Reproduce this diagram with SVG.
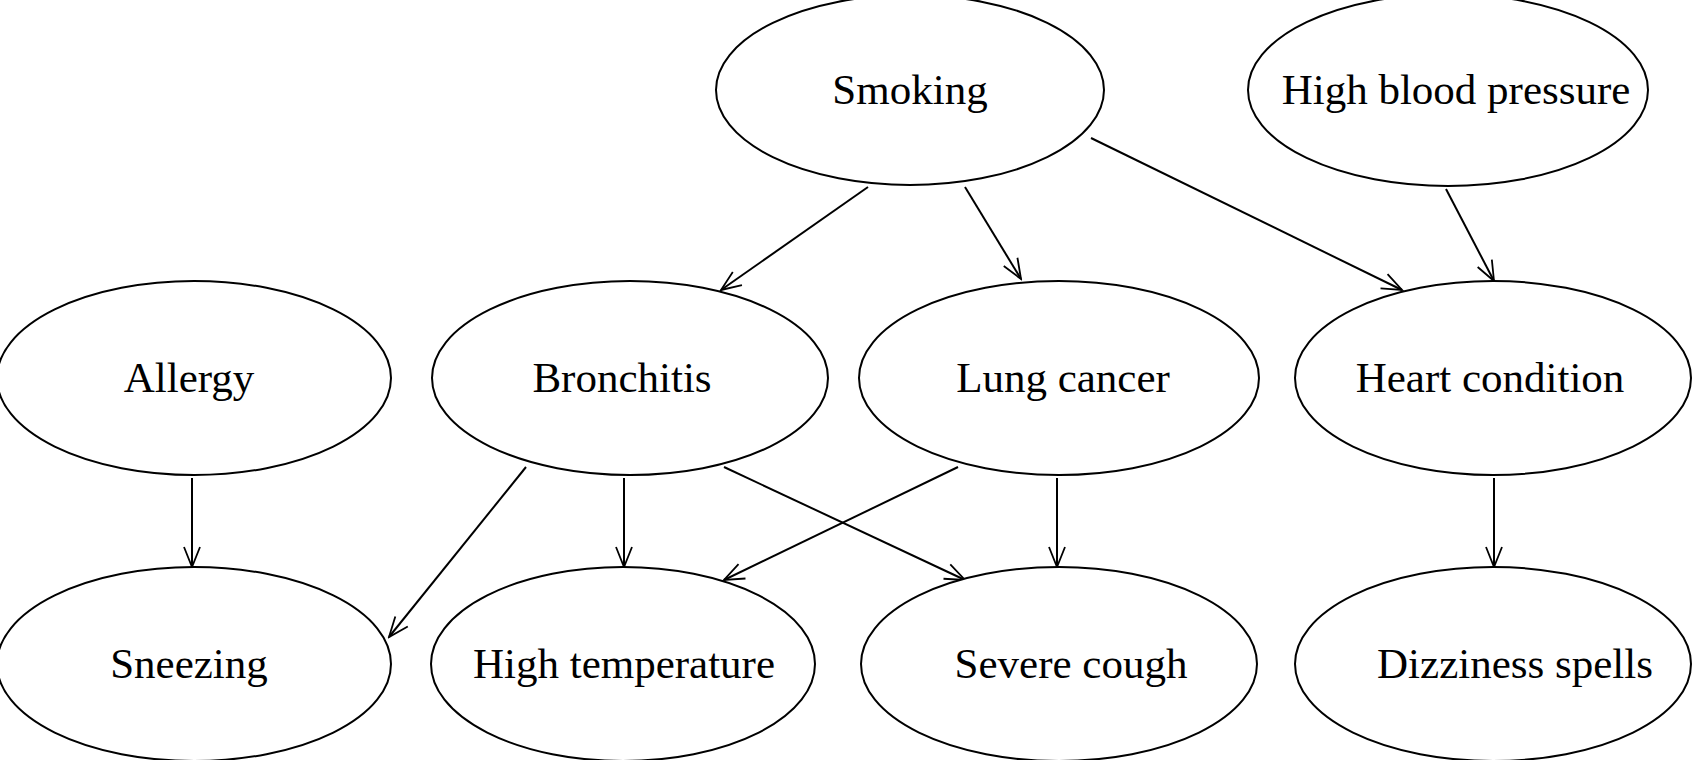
<svg xmlns="http://www.w3.org/2000/svg" width="1694" height="760" viewBox="0 0 1694 760">
<defs>
<marker id="a" markerWidth="24" markerHeight="20" refX="22" refY="10" orient="auto" markerUnits="userSpaceOnUse"><path d="M2,2 L22,10 L2,18" fill="none" stroke="#000" stroke-width="1.8"/></marker>
</defs>
<style>
ellipse{fill:#fff;stroke:#000;stroke-width:2}
text{font-family:"Liberation Serif",serif;font-size:43px;text-anchor:middle;fill:#000}
#edges line{stroke:#000;stroke-width:2;marker-end:url(#a)}
</style>
<rect width="1694" height="760" fill="#fff"/>
<g id="edges">
<line x1="868" y1="187" x2="721" y2="290"/>
<line x1="965" y1="187" x2="1021" y2="279"/>
<line x1="1091" y1="138" x2="1402" y2="290"/>
<line x1="1446" y1="189" x2="1494" y2="281"/>
<line x1="192" y1="478" x2="192" y2="567"/>
<line x1="526" y1="467" x2="389" y2="637"/>
<line x1="624" y1="478" x2="624" y2="567"/>
<line x1="724" y1="467" x2="965" y2="580"/>
<line x1="958" y1="467" x2="724" y2="580"/>
<line x1="1057" y1="478" x2="1057" y2="567"/>
<line x1="1494" y1="478" x2="1494" y2="567"/>
</g>
<g id="smoking"><ellipse cx="910" cy="90" rx="194" ry="95"/><text x="910" y="104">Smoking</text></g>
<g id="hbp"><ellipse cx="1448" cy="90" rx="200" ry="96"/><text x="1456" y="104">High blood pressure</text></g>
<g id="allergy"><ellipse cx="194" cy="378" rx="197" ry="97"/><text x="189" y="392">Allergy</text></g>
<g id="bronchitis"><ellipse cx="630" cy="378" rx="198" ry="97"/><text x="622" y="392">Bronchitis</text></g>
<g id="lung"><ellipse cx="1059" cy="378" rx="200" ry="97"/><text x="1063" y="392">Lung cancer</text></g>
<g id="heart"><ellipse cx="1493" cy="378" rx="198" ry="97"/><text x="1490" y="392">Heart condition</text></g>
<g id="sneezing"><ellipse cx="194" cy="664" rx="197" ry="97"/><text x="189" y="678">Sneezing</text></g>
<g id="hightemp"><ellipse cx="623" cy="664" rx="192" ry="97"/><text x="624" y="678">High temperature</text></g>
<g id="cough"><ellipse cx="1059" cy="664" rx="198" ry="97"/><text x="1071" y="678">Severe cough</text></g>
<g id="dizz"><ellipse cx="1493" cy="664" rx="198" ry="97"/><text x="1515" y="678">Dizziness spells</text></g>
</svg>
